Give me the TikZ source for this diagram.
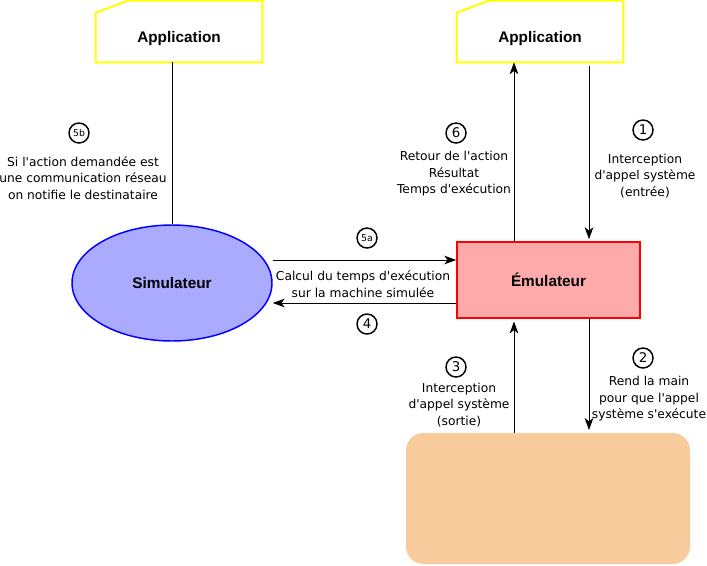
\documentclass[tikz,border=0pt]{standalone}
\usepackage{fontspec}
\setmainfont{DejaVu Sans}[Ligatures=TeXOff]
\newfontfamily\boldlabel{Liberation Sans}
\usetikzlibrary{shapes.geometric,arrows.meta}
\definecolor{appyellow}{RGB}{255,255,0}
\definecolor{simblue}{RGB}{170,170,255}
\definecolor{emured}{RGB}{255,170,170}
\definecolor{hostorange}{RGB}{248,203,156}

\begin{document}
\begin{tikzpicture}[x=0.75pt,y=-0.75pt,
  flow/.style={line width=0.75pt,-{Stealth[length=9pt,width=6.5pt,inset=2.5pt]}},
  title/.style={font=\boldlabel\bfseries\fontsize{11.5}{14}\selectfont},
  note/.style={align=center,font=\fontsize{9.2}{12.3}\selectfont},
  num/.style={circle,draw,line width=1.1pt,inner sep=0pt,minimum size=15pt,font=\fontsize{10}{12}\selectfont},
  smallnum/.style={num,font=\fontsize{7}{8}\selectfont}]
  \useasboundingbox (0,0) rectangle (707,565);
  \node[title,minimum width=124.5pt,minimum height=45.75pt] (appL) at (179,31.5) {\raisebox{-5pt}[\height][\depth]{Application}};
  \node[title,minimum width=124.5pt,minimum height=45.75pt] (appR) at (540,31.5) {\raisebox{-5pt}[\height][\depth]{Application}};
  \foreach \a in {appL,appR}
    \draw[appyellow,line width=1.5pt] ([yshift=-9pt]\a.north west) -- ([xshift=24pt]\a.north west)
      -- (\a.north east) -- (\a.south east) -- (\a.south west) -- cycle;
  \node[title,ellipse,draw=blue,fill=simblue,line width=1.1pt,minimum width=150pt,minimum height=87pt] (sim) at (172,283) {Simulateur};
  \node[title,draw=red,fill=emured,line width=1.1pt,minimum width=137.25pt,minimum height=57pt] (emu) at (548.5,280) {Émulateur};
  \node[fill=hostorange,rounded corners=13pt,minimum width=213pt,minimum height=98.25pt] (host) at (548,498.5) {};
  \coordinate (colret) at (514,0);
  \coordinate (colcall) at (589,0);
  \coordinate (rowcalc) at (0,260);
  \coordinate (rowback) at (0,303);
  \draw[line width=0.75pt] (sim.north) -- (sim.north |- appL.south);
  \draw[flow] (emu.north -| colret) -- (appR.south -| colret);
  \draw[flow,shorten <=3pt,shorten >=1.5pt] (appR.south -| colcall) -- (emu.north -| colcall);
  \draw[flow] (sim.east |- rowcalc) -- (emu.west |- rowcalc);
  \draw[flow] (emu.west |- rowback) -- (sim.east |- rowback);
  \draw[flow,shorten >=2pt] (host.north -| colret) -- (emu.south -| colret);
  \draw[flow,shorten >=2pt] (emu.south -| colcall) -- (host.north -| colcall);
  \node[smallnum] (n5b) at (79,133) {5b};
  \node[note] (t5b) at (83,178) {Si l'action demandée est\\une communication réseau\\on notifie le destinataire};
  \node[num] (n6) at (456,133) {6};
  \node[note] (t6) at (454,174) {Retour de l'action\\Résultat\\Temps d'exécution};
  \node[num] (n1) at (643,130) {1};
  \node[note] (t1) at (645,176) {Interception\\d'appel système\\(entrée)};
  \node[smallnum] (n5a) at (367,238) {5a};
  \node[note] (tcalc) at (363,284) {Calcul du temps d'exécution\\sur la machine simulée};
  \node[num] (n4) at (367,324) {4};
  \node[num] (n3) at (456,367) {3};
  \node[note] (t3) at (459,405) {Interception\\d'appel système\\(sortie)};
  \node[num] (n2) at (643,358) {2};
  \node[note] (t2) at (649,399) {Rend la main\\pour que l'appel\\système s'exécute};
\end{tikzpicture}
\end{document}
